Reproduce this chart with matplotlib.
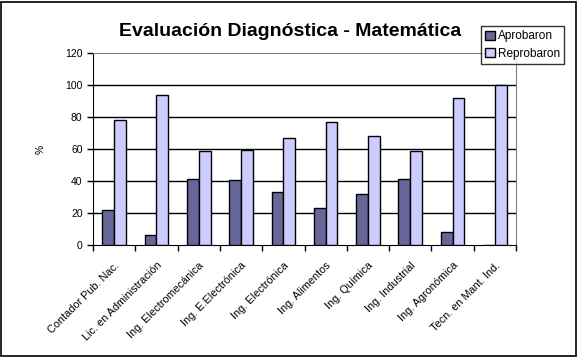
import numpy as np
import matplotlib
matplotlib.use('Agg')
import matplotlib.pyplot as plt
from matplotlib.patches import Rectangle

plt.rcParams['font.family'] = ['Liberation Sans', 'DejaVu Sans']

# datos
carreras = ['Contador Pub. Nac.', 'Lic. en Administración', 'Ing. Electromecánica',
            'Ing. E.Electrónica', 'Ing. Electrónica', 'Ing. Alimentos', 'Ing. Química',
            'Ing. Industrial', 'Ing. Agronómica', 'Tecn. en Mant. Ind.']
aprobaron = [22, 6, 41, 40.5, 33, 23, 32, 41, 8, 0]
reprobaron = [78, 94, 59, 59.5, 67, 77, 68, 59, 92, 100]
y_ticks = [0, 20, 40, 60, 80, 100, 120]

fig = plt.figure(figsize=(5.79, 3.59), dpi=100)
ax = fig.add_axes([93 / 579, 1 - 245 / 359, 423 / 579, 192 / 359])

x = np.arange(len(carreras))
w = 0.28
ax.bar(x - w / 2, aprobaron, w, color='#666699', edgecolor='black', linewidth=1,
       label='Aprobaron', zorder=3)
ax.bar(x + w / 2, reprobaron, w, color='#CCCCFF', edgecolor='black', linewidth=1,
       label='Reprobaron', zorder=3)

ax.set_xlim(-0.5, len(carreras) - 0.5)
ax.set_ylim(0, 120)
ax.set_yticks(y_ticks)
ax.tick_params(axis='y', labelsize=7.5, length=4, direction='out', width=1)
for v in y_ticks[1:-1]:
    ax.axhline(v, color='black', linewidth=1, zorder=1)

# categorias
ax.set_xticks(x)
ax.set_xticklabels(carreras, rotation=45, ha='right', va='top',
                   rotation_mode='anchor', fontsize=7.8)
ax.tick_params(axis='x', which='major', length=0, pad=11)
ax.set_xticks(np.arange(len(carreras) + 1) - 0.5, minor=True)
ax.tick_params(axis='x', which='minor', length=4, width=1)

ax.spines['left'].set_color('black')
ax.spines['bottom'].set_color('black')
ax.spines['top'].set_color('#808080')
ax.spines['right'].set_color('#808080')

ax.set_ylabel('%', fontsize=7.5, labelpad=14)

fig.text(290 / 579, 1 - 31 / 359, 'Evaluación Diagnóstica - Matemática',
         ha='center', va='center', fontsize=14, fontweight='bold')

leg = fig.legend(loc='upper left', bbox_to_anchor=(481 / 579, 1 - 26 / 359),
                 fontsize=8.5, frameon=True, fancybox=False, handlelength=0.8,
                 handleheight=0.8, handletextpad=0.3, borderpad=0.35,
                 labelspacing=0.5, borderaxespad=0)
leg.get_frame().set_edgecolor('black')
leg.get_frame().set_linewidth(1)

fig.patches.append(Rectangle((1 / 579, 3 / 359), 575 / 579, 354 / 359,
                             transform=fig.transFigure, fill=False,
                             edgecolor='black', linewidth=1.2))

fig.savefig('out.png', dpi=100)
